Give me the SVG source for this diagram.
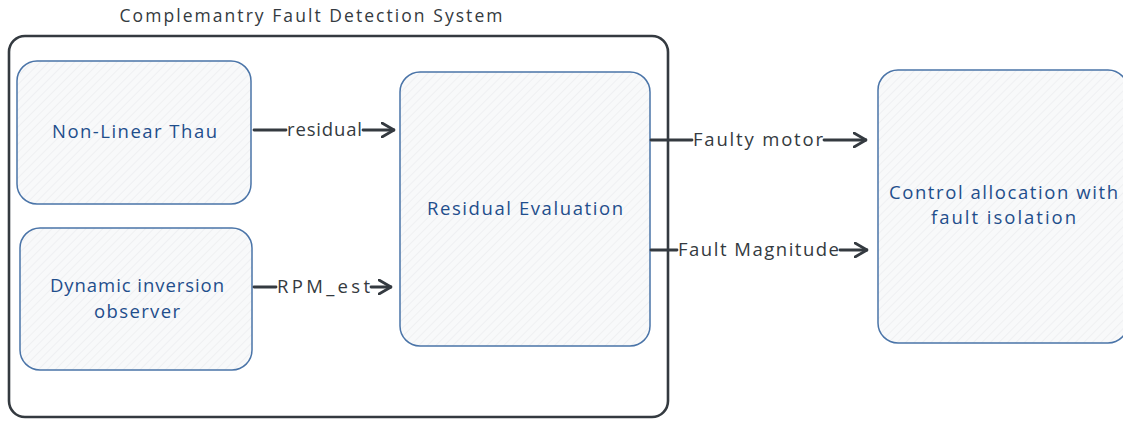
<svg xmlns="http://www.w3.org/2000/svg" width="1123" height="421" viewBox="0 0 1123 421">
<defs>
<pattern id="hatch" patternUnits="userSpaceOnUse" width="6" height="6" patternTransform="rotate(45)">
<rect width="6" height="6" fill="#f8f9fa"/>
<line x1="0" y1="0" x2="0" y2="6" stroke="#e6e8eb" stroke-width="1"/>
</pattern>
<marker id="arr" viewBox="0 0 14 16" refX="13" refY="8" markerWidth="14" markerHeight="16" markerUnits="userSpaceOnUse" orient="auto">
<path d="M1 1 L13 8 L1 15" fill="none" stroke="#343a40" stroke-width="2.8" stroke-linecap="round" stroke-linejoin="round"/>
</marker>
<style>
.box{fill:url(#hatch);stroke:#4a74a8;stroke-width:1.5}
.frame{fill:none;stroke:#343a40;stroke-width:2.6}
.lbl{font-family:"Open Sans","Liberation Sans",sans-serif;font-size:18.5px;fill:#1f4e8c;text-anchor:middle}
.cl{font-family:"Open Sans","Liberation Sans",sans-serif;font-size:18.5px;fill:#343a40;text-anchor:middle}
.title{font-family:"Open Sans","Liberation Sans",sans-serif;font-size:17.5px;fill:#343a40;text-anchor:middle}
.con{fill:none;stroke:#343a40;stroke-width:2.8;stroke-linecap:round}
</style>
</defs>
<rect width="1123" height="421" fill="#ffffff"/>
<g id="frame">
<rect class="frame" x="9" y="36" width="659" height="381" rx="16"/>
<text class="title" x="311" y="22" textLength="383" lengthAdjust="spacing">Complemantry Fault Detection System</text>
</g>
<g id="node-nonlinear">
<rect class="box" x="17" y="61" width="234" height="143" rx="20"/>
<text class="lbl" x="134.5" y="138" textLength="165" lengthAdjust="spacing">Non-Linear Thau</text>
</g>
<g id="node-dynamic">
<rect class="box" x="20" y="228" width="232" height="142" rx="20"/>
<text class="lbl" x="137" y="292" textLength="174" lengthAdjust="spacing">Dynamic inversion</text>
<text class="lbl" x="137" y="318" textLength="86" lengthAdjust="spacing">observer</text>
</g>
<g id="node-residual">
<rect class="box" x="400" y="72" width="250" height="274" rx="20"/>
<text class="lbl" x="525" y="215" textLength="196" lengthAdjust="spacing">Residual Evaluation</text>
</g>
<g id="node-control">
<rect class="box" x="878" y="70" width="250" height="273" rx="20"/>
<text class="lbl" x="1003.5" y="199" textLength="229" lengthAdjust="spacing">Control allocation with</text>
<text class="lbl" x="1003.5" y="224" textLength="145" lengthAdjust="spacing">fault isolation</text>
</g>
<g id="connectors">
<line class="con" x1="254" y1="130" x2="286" y2="130"/>
<line class="con" x1="363" y1="130" x2="394" y2="130" marker-end="url(#arr)"/>
<text class="cl" x="324.5" y="136" textLength="75" lengthAdjust="spacing">residual</text>
<line class="con" x1="254" y1="287" x2="276" y2="287"/>
<line class="con" x1="371" y1="287" x2="391" y2="287" marker-end="url(#arr)"/>
<text class="cl" x="323.5" y="293" textLength="93" lengthAdjust="spacing">RPM_est</text>
<line class="con" x1="651" y1="140" x2="692" y2="140"/>
<line class="con" x1="824" y1="140" x2="866" y2="140" marker-end="url(#arr)"/>
<text class="cl" x="758" y="146" textLength="130" lengthAdjust="spacing">Faulty motor</text>
<line class="con" x1="651" y1="250" x2="677" y2="250"/>
<line class="con" x1="840" y1="250" x2="867" y2="250" marker-end="url(#arr)"/>
<text class="cl" x="758.5" y="256" textLength="161" lengthAdjust="spacing">Fault Magnitude</text>
</g>
</svg>
